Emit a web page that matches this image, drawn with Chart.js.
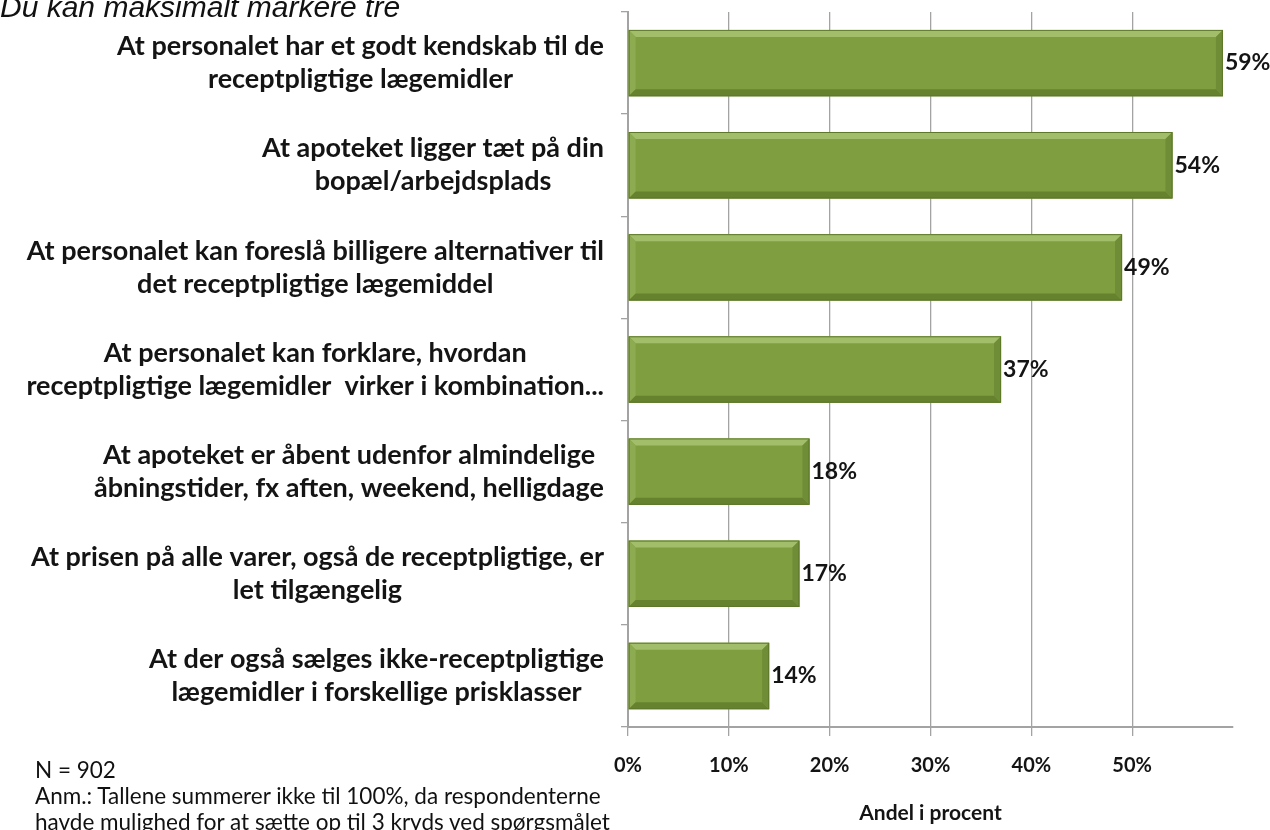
<!DOCTYPE html>
<html>
<head>
<meta charset="utf-8">
<script src="https://cdn.jsdelivr.net/npm/chart.js@4.4.1/dist/chart.umd.min.js"></script>
<style>
  body { margin: 0; background: #fff; }
  #wrap { position: relative; width: 1270px; height: 830px; overflow: hidden; }
  #myChart { position: absolute; left: 0; top: 0; }
  .head { position: absolute; left: 0; top: -8px; font: italic 30px "Liberation Sans", Arial, sans-serif; line-height: 30px; color: #111; white-space: nowrap; }
  .note { position: absolute; left: 35px; top: 757px; font: 22.5px Lato, sans-serif; line-height: 26px; color: #111; white-space: nowrap; }
</style>
</head>
<body>
<div id="wrap">
  <canvas id="myChart" width="1270" height="830"></canvas>
  <div class="head">Du kan maksimalt markere tre</div>
  <div class="note">N = 902<br>Anm.: Tallene summerer ikke til 100%, da respondenterne<br>havde mulighed for at sætte op til 3 kryds ved spørgsmålet</div>
</div>
<script>
// categories, split into the lines used in the picture
const categories = [
  ["At personalet har et godt kendskab til de", "receptpligtige lægemidler"],
  ["At apoteket ligger tæt på din", "bopæl/arbejdsplads"],
  ["At personalet kan foreslå billigere alternativer til", "det receptpligtige lægemiddel"],
  ["At personalet kan forklare, hvordan", "receptpligtige lægemidler  virker i kombination..."],
  ["At apoteket er åbent udenfor almindelige", "åbningstider, fx aften, weekend, helligdage"],
  ["At prisen på alle varer, også de receptpligtige, er", "let tilgængelig"],
  ["At der også sælges ikke-receptpligtige", "lægemidler i forskellige prisklasser"],
];
const shares = [59, 54, 49, 37, 18, 17, 14];
const axisTicks = [0, 10, 20, 30, 40, 50];
const axisTitle = "Andel i procent";

const gridGray = "#a3a3a3";
const textColor = "#141414";

//Draw category labels: block right-aligned near the axis, each line centered in the block
const categoryLabels = {
  id: "categoryLabels",
  afterDraw(chart) {
    const ctx = chart.ctx;
    const yScale = chart.scales.y;
    ctx.save();
    ctx.font = "bold 27px Lato, sans-serif";
    ctx.fillStyle = textColor;
    ctx.textAlign = "center";
    ctx.textBaseline = "middle";
    categories.forEach((lines, i) => {
      const y = yScale.getPixelForTick(i);
      const blockW = Math.max(...lines.map((l) => ctx.measureText(l).width));
      const cx = yScale.right - 24 - blockW / 2;
      const lineH = 33;
      const y0 = y - ((lines.length - 1) * lineH) / 2;
      lines.forEach((l, k) => ctx.fillText(l, cx, y0 + k * lineH));
    });
    ctx.restore();
  },
};

//Bevelled bars + value labels
const barDecor = {
  id: "barDecor",
  afterDatasetsDraw(chart) {
    const ctx = chart.ctx;
    const meta = chart.getDatasetMeta(0);
    ctx.save();
    meta.data.forEach((bar, i) => {
      const x0 = bar.base, x1 = bar.x;
      const y0 = bar.y - bar.height / 2, y1 = bar.y + bar.height / 2;
      const b = 7;
      const quad = (pts, color) => {
        ctx.beginPath();
        ctx.moveTo(pts[0][0], pts[0][1]);
        for (let k = 1; k < pts.length; k++) ctx.lineTo(pts[k][0], pts[k][1]);
        ctx.closePath();
        ctx.fillStyle = color;
        ctx.fill();
      };
      quad([[x0, y0], [x1, y0], [x1 - b, y0 + b], [x0 + b, y0 + b]], "#a2be6a");
      quad([[x0, y0], [x0 + b, y0 + b], [x0 + b, y1 - b], [x0, y1]], "#8dab50");
      quad([[x0, y1], [x0 + b, y1 - b], [x1 - b, y1 - b], [x1, y1]], "#66822f");
      quad([[x1, y0], [x1, y1], [x1 - b, y1 - b], [x1 - b, y0 + b]], "#6f8c36");
      ctx.strokeStyle = "#5d7829";
      ctx.lineWidth = 1;
      ctx.strokeRect(x0 + 0.5, y0 + 0.5, x1 - x0 - 1, y1 - y0 - 1);

      ctx.font = "bold 23px Lato, sans-serif";
      ctx.fillStyle = textColor;
      ctx.textAlign = "left";
      ctx.textBaseline = "middle";
      ctx.fillText(shares[i] + "%", x1 + 2, bar.y);
    });
    ctx.restore();
  },
};

var ctx = document.getElementById("myChart");
var myChart = new Chart(ctx, {
  type: "bar",
  data: {
    labels: categories,
    datasets: [
      {
        data: shares,
        backgroundColor: "#7f9e40",
        borderWidth: 0,
        categoryPercentage: 1,
        barPercentage: 0.65,
      },
    ],
  },
  plugins: [categoryLabels, barDecor],
  options: {
    indexAxis: "y",
    responsive: false,
    animation: false,
    devicePixelRatio: 1,
    layout: { padding: { top: 12, right: 37, left: 0, bottom: 0 } },
    plugins: {
      legend: { display: false },
      tooltip: { enabled: false },
    },
    scales: {
      x: {
        min: 0,
        max: 60,
        afterBuildTicks: (scale) => {
          scale.ticks = axisTicks.map((v) => ({ value: v }));
        },
        afterFit: (scale) => {
          scale.height = 103;
        },
        grid: { color: gridGray, lineWidth: 1.3, tickLength: 9 },
        border: { color: gridGray, width: 2 },
        ticks: {
          padding: 18,
          color: textColor,
          font: { family: "Lato", size: 20, weight: "bold" },
          callback: (v) => v + "%",
        },
        title: {
          display: true,
          text: axisTitle,
          color: textColor,
          font: { family: "Lato", size: 21, weight: "bold" },
          padding: { top: 0, bottom: 4 },
        },
      },
      y: {
        offset: true,
        afterFit: (scale) => {
          scale.width = 628;
        },
        grid: {
          offset: true,
          drawOnChartArea: false,
          drawTicks: true,
          tickLength: 7,
          color: gridGray,
          lineWidth: 1.3,
        },
        border: { color: gridGray, width: 2 },
        ticks: { display: false },
      },
    },
  },
});
</script>
</body>
</html>
